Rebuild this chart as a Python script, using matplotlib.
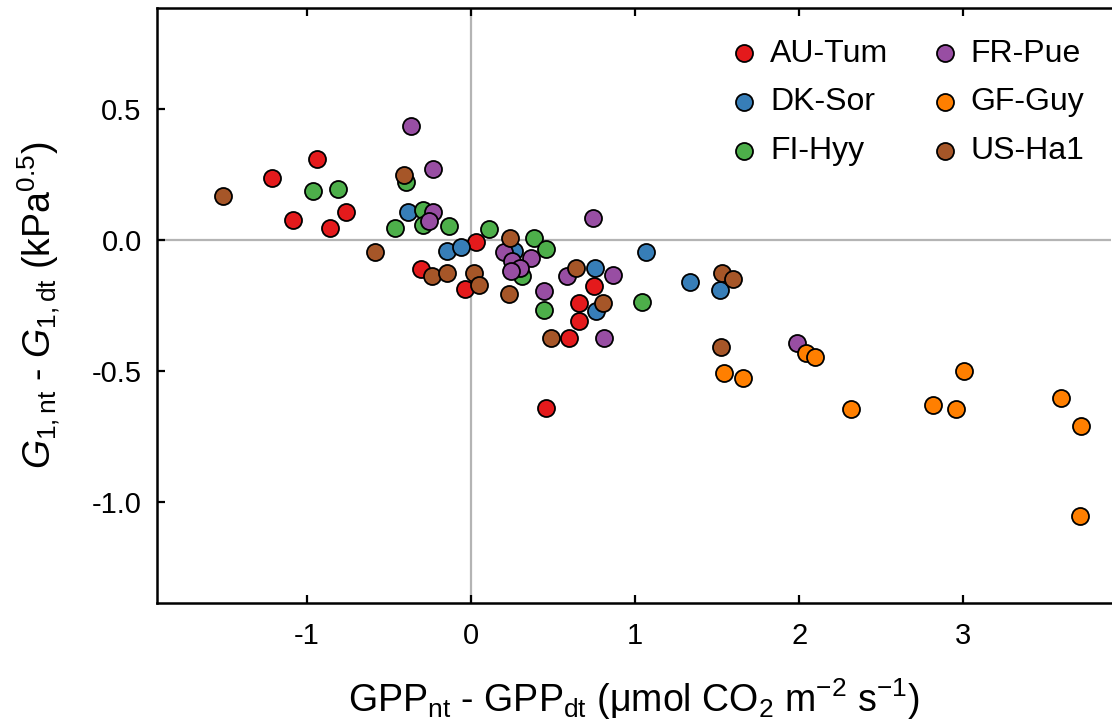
import numpy as np
import matplotlib
matplotlib.use("Agg")
import matplotlib.pyplot as plt

plt.rcParams['font.family'] = ['Liberation Sans', 'DejaVu Sans']
plt.rcParams['mathtext.fontset'] = 'custom'
plt.rcParams['mathtext.rm'] = 'Liberation Sans'
plt.rcParams['mathtext.it'] = 'Liberation Sans:italic'

# --- GPP difference (x) vs G1 difference (y) per site ---
sites = ['AU-Tum', 'DK-Sor', 'FI-Hyy', 'FR-Pue', 'GF-Guy', 'US-Ha1']
colors = ['#e41a1c', '#377eb8', '#4daf4a', '#984ea3', '#ff7f00', '#a65628']

au_x = [-1.215, -0.938, -1.087, -0.761, -0.859, -0.304, 0.03, -0.038, 0.747, 0.656, 0.656, 0.595, 0.459]
au_y = [0.235, 0.308, 0.076, 0.108, 0.045, -0.112, -0.008, -0.188, -0.176, -0.241, -0.309, -0.374, -0.642]

dk_x = [-0.385, -0.143, -0.058, 0.265, 0.753, 0.765, 1.064, 1.332, 1.52]
dk_y = [0.108, -0.042, -0.027, -0.042, -0.106, -0.271, -0.046, -0.159, -0.191]

fi_x = [-0.965, -0.812, -0.395, -0.29, -0.29, -0.462, -0.135, 0.107, 0.387, 0.458, 0.312, 0.448, 1.044]
fi_y = [0.187, 0.193, 0.223, 0.115, 0.057, 0.045, 0.053, 0.042, 0.008, -0.034, -0.137, -0.267, -0.235]

fr_x = [-0.363, -0.233, -0.233, -0.257, 0.204, 0.251, 0.363, 0.296, 0.241, 0.448, 0.588, 0.863, 0.741, 0.808, 1.989]
fr_y = [0.435, 0.271, 0.106, 0.074, -0.046, -0.08, -0.069, -0.107, -0.118, -0.194, -0.137, -0.134, 0.084, -0.374, -0.392]

gf_x = [1.54, 1.656, 2.044, 2.095, 2.318, 2.816, 2.954, 3.003, 3.595, 3.715, 3.71]
gf_y = [-0.506, -0.525, -0.433, -0.448, -0.643, -0.630, -0.646, -0.499, -0.604, -0.710, -1.052]

us_x = [-1.513, -0.41, -0.584, -0.236, -0.145, 0.021, 0.046, 0.235, 0.229, 0.49, 0.641, 0.803, 1.532, 1.595, 1.525]
us_y = [0.169, 0.248, -0.047, -0.137, -0.127, -0.127, -0.172, 0.008, -0.207, -0.375, -0.106, -0.241, -0.125, -0.149, -0.407]

xs = [au_x, dk_x, fi_x, fr_x, gf_x, us_x]
ys = [au_y, dk_y, fi_y, fr_y, gf_y, us_y]

x_ticks = [-1, 0, 1, 2, 3]
y_ticks = [-1.0, -0.5, 0.0, 0.5]

fig = plt.figure(figsize=(11.12, 7.24), dpi=100)
ax = fig.add_axes([157 / 1112, 121 / 724, 954 / 1112, 595 / 724])

ax.axhline(0, color='#b4b4b4', lw=1.6, zorder=1)
ax.axvline(0, color='#b4b4b4', lw=1.6, zorder=1)

for name, c, x, y in zip(sites, colors, xs, ys):
    ax.scatter(x, y, s=150, color=c, edgecolor='black', linewidth=1.3,
               zorder=3, label=name)

ax.set_xlim(-1.913, 3.90)
ax.set_ylim(-1.385, 0.885)
ax.set_xticks(x_ticks)
ax.set_xticklabels([f'{v:g}' for v in x_ticks])
ax.set_yticks(y_ticks)
ax.set_yticklabels([f'{v:.1f}' for v in y_ticks])

for side in ['left', 'bottom', 'top']:
    ax.spines[side].set_linewidth(1.8)
ax.spines['right'].set_visible(False)
ax.tick_params(axis='both', direction='in', length=6, width=1.6,
               labelsize=21, top=True)
ax.tick_params(axis='x', pad=14)
ax.tick_params(axis='y', pad=11)

ax.set_xlabel(r'GPP$_{\mathrm{nt}}$ - GPP$_{\mathrm{dt}}$ (μmol CO$_2$ m$^{-2}$ s$^{-1}$)',
              fontsize=27, va='center')
ax.xaxis.set_label_coords(0.5, -0.162)
ax.set_ylabel(r'$G_{\mathrm{1,nt}}$ - $G_{\mathrm{1,dt}}$ (kPa$^{0.5}$)',
              fontsize=27, va='center')
ax.yaxis.set_label_coords(-0.123, 0.5)

ax.legend(ncol=2, frameon=False, fontsize=23, scatterpoints=1,
          handlelength=0.8, handletextpad=0.4, columnspacing=1.37,
          labelspacing=0.59, borderpad=0.4,
          loc='upper right', bbox_to_anchor=(1.002, 0.997))

fig.savefig('out.png', dpi=100)
